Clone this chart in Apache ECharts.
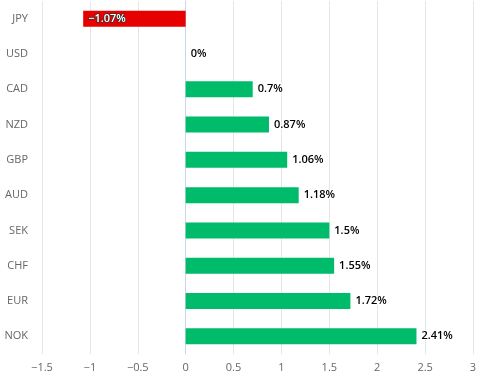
<!DOCTYPE html>
<html>
<head>
<meta charset="utf-8">
<script src="https://cdn.jsdelivr.net/npm/echarts@6/dist/echarts.min.js"></script>
<style>
html, body { margin: 0; padding: 0; background: #fff; }
#chart { width: 487px; height: 376px; }
</style>
</head>
<body>
<div id="chart"></div>
<script>
// 货币涨跌幅
var currencies = ['JPY', 'USD', 'CAD', 'NZD', 'GBP', 'AUD', 'SEK', 'CHF', 'EUR', 'NOK'];
var changes = [-1.07, 0, 0.7, 0.87, 1.06, 1.18, 1.5, 1.55, 1.72, 2.41];

var myChart = echarts.init(document.getElementById('chart'));

var barData = changes.map(function (v) {
    var item = { value: v, itemStyle: { color: v < 0 ? '#e60000' : '#00bb6a' } };
    if (v < 0) {
        item.label = {
            position: 'insideLeft',
            color: '#fff',
            textBorderColor: '#333',
            textBorderWidth: 1.5
        };
    }
    return item;
});

var option = {
    animation: false,
    grid: { left: 42, right: 14, top: 1, bottom: 22, containLabel: false },
    xAxis: {
        type: 'value',
        min: -1.5,
        max: 3,
        interval: 0.5,
        axisLine: { show: false },
        axisTick: { show: false },
        axisLabel: {
            color: '#666',
            fontSize: 11,
            fontFamily: 'Open Sans',
            margin: 8,
            formatter: function (v) { return String(v).replace('-', '−'); }
        },
        splitLine: { lineStyle: { color: '#e6e6e6' } }
    },
    yAxis: {
        type: 'category',
        data: currencies,
        inverse: true,
        axisLine: { lineStyle: { color: '#ccd6eb' } },
        axisTick: { lineStyle: { color: '#ccd6eb' }, length: 9 },
        axisLabel: { color: '#666', fontSize: 11, fontFamily: 'Open Sans', margin: 14 }
    },
    series: [{
        type: 'bar',
        data: barData,
        barWidth: 16,
        label: {
            show: true,
            position: 'right',
            distance: 5,
            color: '#000',
            fontSize: 11,
            fontWeight: 600,
            fontFamily: 'Open Sans',
            textBorderColor: '#fff',
            textBorderWidth: 2,
            formatter: function (p) { return String(p.value).replace('-', '−') + '%'; }
        }
    }]
};

myChart.setOption(option);
</script>
</body>
</html>
